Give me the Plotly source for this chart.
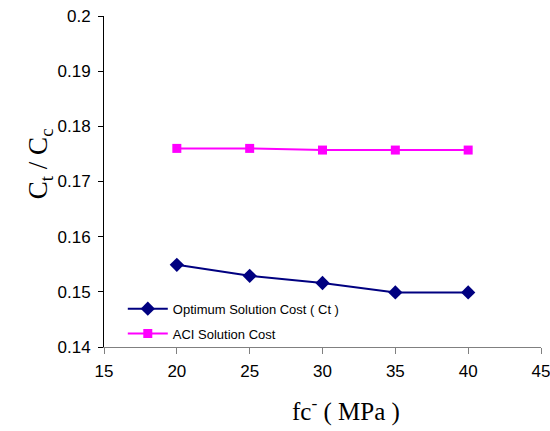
import plotly.graph_objects as go

fc = [20, 25, 30, 35, 40]
optimum = [0.1549, 0.1529, 0.1516, 0.1499, 0.1499]
aci = [0.1760, 0.1760, 0.1757, 0.1757, 0.1757]

fig = go.Figure()
fig.add_trace(go.Scatter(x=fc, y=optimum, mode="lines+markers",
                         name="Optimum Solution Cost ( Ct )", legendgroup="a",
                         line=dict(color="#000080", width=2),
                         marker=dict(symbol="diamond", size=11, color="#000080")))
fig.add_trace(go.Scatter(x=fc, y=aci, mode="lines+markers",
                         name="ACI Solution Cost", legendgroup="b",
                         line=dict(color="#FF00FF", width=2),
                         marker=dict(symbol="square", size=9, color="#FF00FF")))

fig.update_layout(
    width=550, height=431,
    margin=dict(l=104, r=9, t=16, b=84, autoexpand=False),
    paper_bgcolor="white", plot_bgcolor="white",
    font=dict(family="Liberation Sans, Arial", size=17, color="black"),
    showlegend=True,
    legend=dict(x=0.043, y=0.161, xanchor="left", yanchor="top",
                font=dict(size=13, family="Liberation Sans, Arial"),
                bgcolor="rgba(0,0,0,0)", traceorder="grouped", tracegroupgap=5,
                itemwidth=40),
    xaxis=dict(range=[15, 45], dtick=5, showgrid=False, zeroline=False,
               showline=True, linecolor="#808080", linewidth=1, automargin=False,
               ticks="outside", ticklen=6, tickcolor="#808080", ticklabelstandoff=3,
               ticklabeloverflow="allow"),
    yaxis=dict(range=[0.14, 0.2], dtick=0.01, showgrid=False, zeroline=False,
               showline=True, linecolor="black", linewidth=1, automargin=False,
               ticks="outside", ticklen=5, tickcolor="black", ticklabelstandoff=4,
               ticklabeloverflow="allow"),
    annotations=[
        dict(text="fc<sup>-</sup> ( MPa )", xref="paper", yref="paper",
             x=0.554, y=-0.19, xanchor="center", yanchor="middle", showarrow=False,
             font=dict(family="Liberation Serif, Times New Roman", size=25)),
        dict(text="C<sub>t</sub> / C<sub>c</sub>", xref="paper", yref="paper",
             x=-0.146, y=0.553, xanchor="center", yanchor="middle", showarrow=False,
             textangle=-90,
             font=dict(family="Liberation Serif, Times New Roman", size=27)),
    ],
)

fig.write_html("out.html",
               config={"displayModeBar": False},
               post_script="document.body.style.margin='0';document.body.style.overflow='hidden';")
